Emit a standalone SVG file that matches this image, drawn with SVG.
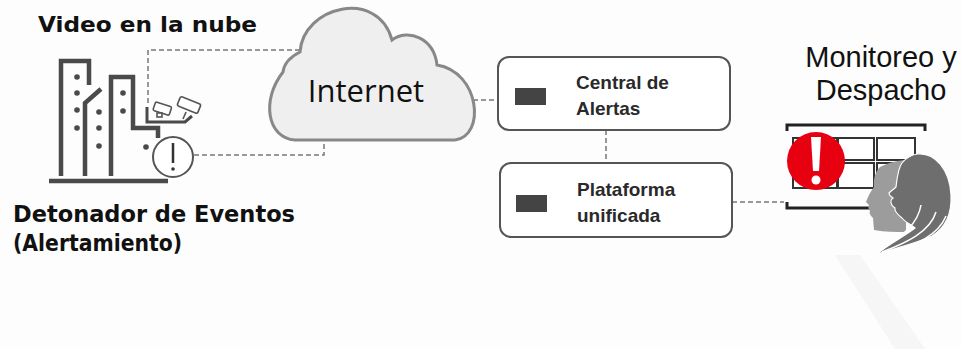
<svg xmlns="http://www.w3.org/2000/svg" width="961" height="349" viewBox="0 0 961 349">
  <defs>
    <style>
      .title { font-family: "DejaVu Sans", "Liberation Sans", sans-serif; font-weight: bold; fill: #111; }
      .big { font-family: "Liberation Sans", Arial, sans-serif; fill: #111; font-size: 29px; }
      .box { fill: #fff; stroke: #555; stroke-width: 2; }
      .boxlabel { font-family: "Liberation Sans", Arial, sans-serif; font-weight: bold; font-size: 19px; fill: #2a2a2a; }
      .chip { fill: #444; }
      .dash { fill: none; stroke: #777; stroke-width: 1.5; stroke-dasharray: 5 3; }
      .ico { fill: none; stroke: #4a4a4a; stroke-width: 4.5; }
      .dot { fill: #4a4a4a; }
      .grid { fill: #fff; stroke: #333; stroke-width: 2; }
    </style>
  </defs>

  <!-- background -->
  <rect x="0" y="0" width="961" height="349" fill="#fdfdfd"/>
  <polygon points="835,255 860,255 925,349 895,349" fill="#f6f6f6"/>

  <!-- connectors -->
  <g id="connectors">
    <path class="dash" d="M 148 103 V 50 H 300"/>
    <path class="dash" d="M 194 155 H 324 V 141"/>
    <path class="dash" d="M 473 100 H 498"/>
    <path class="dash" d="M 606 130 V 163"/>
    <path class="dash" d="M 732 202 H 784"/>
  </g>

  <!-- event trigger: buildings, cameras, alert -->
  <g id="buildings">
    <path class="ico" d="M 61 176 V 61 H 89 V 85"/>
    <path class="ico" d="M 85 176 V 103 L 101 89"/>
    <path class="ico" d="M 111 176 V 77 H 133 V 128 H 158 V 138"/>
    <path class="ico" d="M 49 181 H 168" stroke-width="5"/>
    <circle class="dot" cx="77" cy="77" r="2.8"/>
    <circle class="dot" cx="77" cy="93" r="2.8"/>
    <circle class="dot" cx="77" cy="110" r="2.8"/>
    <circle class="dot" cx="77" cy="128" r="2.8"/>
    <circle class="dot" cx="99" cy="112" r="2.8"/>
    <circle class="dot" cx="99" cy="128" r="2.8"/>
    <circle class="dot" cx="99" cy="146" r="2.8"/>
    <circle class="dot" cx="123" cy="93" r="2.8"/>
    <circle class="dot" cx="123" cy="111" r="2.8"/>
    <circle class="dot" cx="146" cy="147" r="2.8"/>
    <!-- camera mount -->
    <path d="M 147 107 V 122 H 185 L 192 116" fill="none" stroke="#4a4a4a" stroke-width="3"/>
    <!-- cameras -->
    <g fill="#fff" stroke="#555" stroke-width="1.6">
      <rect x="154" y="104" width="17" height="9" rx="1.5" transform="rotate(18 162 108)"/>
      <rect x="157" y="113" width="5" height="4"/>
      <rect x="178" y="100" width="22" height="10" rx="2" transform="rotate(22 189 105)"/>
      <line x1="186" y1="112" x2="183" y2="119"/>
    </g>
    <circle cx="173" cy="157" r="20" fill="#fff" stroke="#555" stroke-width="2"/>
    <line x1="173" y1="143" x2="173" y2="163" stroke="#333" stroke-width="2.5"/>
    <circle cx="173" cy="169" r="1.8" fill="#333"/>
  </g>

  <g id="label-video">
    <text class="title" x="38" y="32" font-size="21" textLength="219" lengthAdjust="spacingAndGlyphs">Video en la nube</text>
  </g>
  <g id="label-detonador">
    <text class="title" x="13" y="222" font-size="22.5" textLength="282" lengthAdjust="spacingAndGlyphs">Detonador de Eventos</text>
    <text class="title" x="13" y="251" font-size="22.5" textLength="169" lengthAdjust="spacingAndGlyphs">(Alertamiento)</text>
  </g>

  <!-- cloud -->
  <g id="internet">
    <path d="M 295 140 C 267 138 261 100 283 72 C 284 64 290 57 300 52 C 303 6 378 -12 392 40 C 408 28 434 38 437 65 C 480 72 486 136 455 140 Z" fill="#efefef" stroke="#888" stroke-width="3"/>
    <text x="366" y="102" text-anchor="middle" font-family="'Open Sans', 'Liberation Sans', sans-serif" font-size="31" fill="#111">Internet</text>
  </g>

  <g id="central-alertas">
    <rect class="box" x="498" y="57" width="232" height="73" rx="11"/>
    <rect class="chip" x="515" y="88" width="31" height="17"/>
    <text class="boxlabel" x="576" y="89">Central de</text>
    <text class="boxlabel" x="576" y="115">Alertas</text>
  </g>

  <g id="plataforma">
    <rect class="box" x="500" y="163" width="232" height="74" rx="11"/>
    <rect class="chip" x="516" y="195" width="31" height="17"/>
    <text class="boxlabel" x="577" y="196">Plataforma</text>
    <text class="boxlabel" x="577" y="222">unificada</text>
  </g>

  <g id="monitoreo">
    <text class="big" x="881" y="67" text-anchor="middle">Monitoreo y</text>
    <text class="big" x="881" y="100" text-anchor="middle">Despacho</text>
    <!-- screen bracket -->
    <path d="M 787 131 V 125 H 925 V 131" fill="none" stroke="#222" stroke-width="3"/>
    <path d="M 787 202 V 208 H 880" fill="none" stroke="#222" stroke-width="3"/>
    <!-- screen grid -->
    <rect class="grid" x="793" y="138" width="44" height="22"/>
    <rect class="grid" x="838" y="138" width="36" height="22"/>
    <rect class="grid" x="877" y="138" width="38" height="22"/>
    <rect class="grid" x="793" y="163" width="44" height="25"/>
    <rect class="grid" x="838" y="163" width="36" height="25"/>
    <rect class="grid" x="877" y="163" width="38" height="25"/>
    <!-- alert badge -->
    <circle cx="816" cy="161" r="29" fill="#e60010"/>
    <path d="M 811 137 H 821 L 819 171 H 813 Z" fill="#fff"/>
    <circle cx="816" cy="180" r="4.5" fill="#fff"/>
    <!-- back profile -->
    <path d="M 880 167 C 890 162 900 160 906 160 L 906 232 C 895 232 885 232 874 230 L 873 218 C 870 215 869 213 870 211 C 868 209 868 207 869 205 L 866 202 C 868 196 871 191 874 187 C 873 180 875 172 880 167 Z" fill="#9c9c9c"/>
    <!-- front profile with hair -->
    <path d="M 917 154 C 935 152 950 170 951 195 C 952 215 945 228 932 236 C 915 244 895 248 877 254 C 890 243 905 236 915 228 C 910 224 905 222 902 218 C 897 214 894 211 895 208 C 892 206 891 204 891 202 C 890 200 892 199 893 198 C 890 196 889 195 889 193 C 891 191 894 189 896 187 C 897 178 898 168 902 163 C 906 158 911 155 917 154 Z" fill="#6e6e6e" stroke="#fff" stroke-width="1.2"/>
    <g fill="none" stroke="#fff" stroke-width="1.5">
      <path d="M 921 205 C 918 224 902 236 884 247"/>
      <path d="M 936 212 C 930 232 906 243 882 252"/>
      <path d="M 946 216 C 938 236 915 245 892 252"/>
    </g>
  </g>
</svg>
